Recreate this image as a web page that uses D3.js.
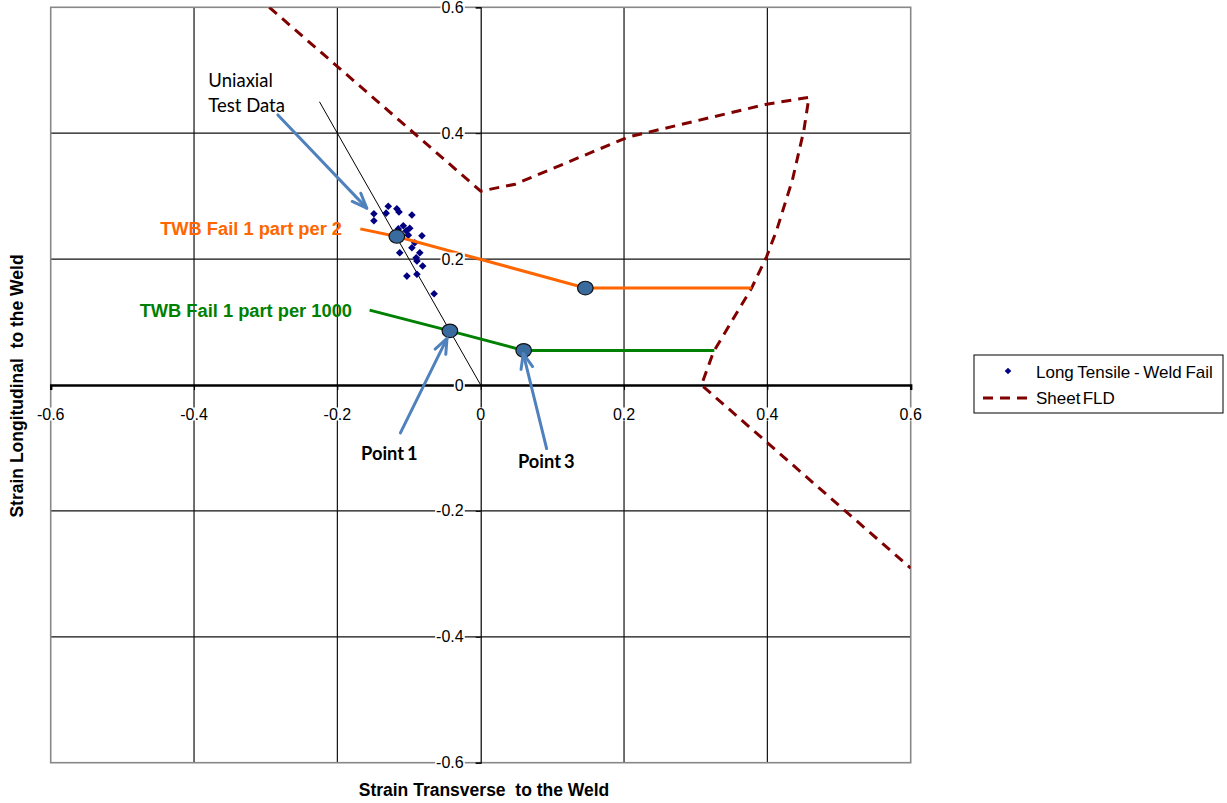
<!DOCTYPE html>
<html>
<head>
<meta charset="utf-8">
<script src="https://cdn.jsdelivr.net/npm/d3@7"></script>
<style>
  body { margin: 0; background: #fff; }
  svg { display: block; }
</style>
</head>
<body>
<svg id="chart" width="1227" height="803"></svg>
<script>
// ---- data -------------------------------------------------------------
const xTicks = [-0.6, -0.4, -0.2, 0, 0.2, 0.4, 0.6];
const yTicks = [-0.6, -0.4, -0.2, 0, 0.2, 0.4, 0.6];

// Long tensile specimens that failed in the weld (transverse, longitudinal strain)
const weldFailX = [-0.149, -0.149, -0.132, -0.129, -0.117, -0.114, -0.096, -0.108, -0.099, -0.104,
                   -0.115, -0.101, -0.082, -0.092, -0.096, -0.113, -0.085, -0.090, -0.089, -0.081,
                   -0.103, -0.089, -0.065];
const weldFailY = [0.272, 0.261, 0.273, 0.284, 0.280, 0.275, 0.270, 0.253, 0.249, 0.245,
                   0.248, 0.238, 0.237, 0.226, 0.218, 0.210, 0.210, 0.202, 0.197, 0.189,
                   0.173, 0.176, 0.145];

// Forming limit diagram of the parent sheet
const fldX = [-0.295, 0.0, 0.048, 0.206, 0.399, 0.458, 0.451, 0.435, 0.413, 0.399, 0.378, 0.325, 0.308, 0.600];
const fldY = [0.600, 0.308, 0.319, 0.394, 0.446, 0.457, 0.405, 0.326, 0.246, 0.204, 0.154, 0.053, 0.000, -0.291];

// Uniaxial strain path
const uniaxialX = [-0.225, 0];
const uniaxialY = [0.45, 0];

// Tailor welded blank failure paths
const twb2X = [-0.168, -0.117, 0.146, 0.378];
const twb2Y = [0.248, 0.236, 0.154, 0.154];
const twb1000X = [-0.155, -0.043, 0.060, 0.326];
const twb1000Y = [0.119, 0.086, 0.055, 0.055];

// Highlighted points on the failure paths
const markerX = [-0.117, 0.146, -0.043, 0.060];
const markerY = [0.236, 0.154, 0.086, 0.055];

// ---- layout -----------------------------------------------------------
const svg = d3.select("#chart");
const plot = { left: 50.7, right: 910.7, top: 7.3, bottom: 762.7 };

const x = d3.scaleLinear().domain([-0.6, 0.6]).range([plot.left, plot.right]);
const y = d3.scaleLinear().domain([-0.6, 0.6]).range([plot.bottom, plot.top]);

const fmt = d => (d === 0 ? "0" : d3.format(".1f")(d)).replace("−", "-");
const tickFont = "'Liberation Sans', Arial, sans-serif";

// clip for series
svg.append("defs").append("clipPath").attr("id", "plotClip")
  .append("rect")
  .attr("x", plot.left).attr("y", plot.top)
  .attr("width", plot.right - plot.left).attr("height", plot.bottom - plot.top);

// ---- grid -------------------------------------------------------------
const grid = svg.append("g");
grid.selectAll(".vg").data(xTicks.filter(d => d !== -0.6 && d !== 0.6 && d !== 0)).join("line")
  .attr("x1", d => x(d)).attr("x2", d => x(d))
  .attr("y1", plot.top).attr("y2", plot.bottom)
  .attr("stroke", "#111").attr("stroke-width", 1.2);
grid.selectAll(".hg").data(yTicks.filter(d => d !== -0.6 && d !== 0.6 && d !== 0)).join("line")
  .attr("x1", plot.left).attr("x2", plot.right)
  .attr("y1", d => y(d)).attr("y2", d => y(d))
  .attr("stroke", "#111").attr("stroke-width", 1.2);

// plot border
svg.append("rect")
  .attr("x", plot.left).attr("y", plot.top)
  .attr("width", plot.right - plot.left).attr("height", plot.bottom - plot.top)
  .attr("fill", "none").attr("stroke", "#888").attr("stroke-width", 1.6);

// ---- axes through the origin -----------------------------------------
const yAxis = d3.axisLeft(y).tickValues(yTicks).tickSize(5).tickFormat(() => "");
const xAxis = d3.axisBottom(x).tickValues(xTicks).tickSize(5).tickFormat(() => "");

const yAxisG = svg.append("g").attr("transform", `translate(${x(0)},0)`).call(yAxis);
yAxisG.select(".domain").attr("stroke", "#000").attr("stroke-width", 1.2);
yAxisG.selectAll(".tick line").attr("stroke", "#000");

const xAxisG = svg.append("g").attr("transform", `translate(0,${y(0)})`).call(xAxis);
xAxisG.select(".domain").attr("stroke", "#000").attr("stroke-width", 2.4);
xAxisG.selectAll(".tick line").attr("stroke", "#000");

// ---- series -----------------------------------------------------------
const series = svg.append("g").attr("clip-path", "url(#plotClip)");
const line = d3.line().x(d => x(d[0])).y(d => y(d[1]));

series.append("path")
  .datum(d3.zip(fldX, fldY))
  .attr("d", line)
  .attr("fill", "none").attr("stroke", "#800000").attr("stroke-width", 3)
  .attr("stroke-dasharray", "10,7");

series.append("path")
  .datum(d3.zip(uniaxialX, uniaxialY))
  .attr("d", line)
  .attr("fill", "none").attr("stroke", "#000").attr("stroke-width", 1);

// square diamonds (a square turned 45 degrees)
const diamond = d3.symbol().type(d3.symbolSquare).size(29);
series.selectAll(".wf").data(d3.zip(weldFailX, weldFailY)).join("path")
  .attr("d", diamond)
  .attr("transform", d => `translate(${x(d[0])},${y(d[1])}) rotate(45)`)
  .attr("fill", "#000080");

series.append("path")
  .datum(d3.zip(twb2X, twb2Y))
  .attr("d", line)
  .attr("fill", "none").attr("stroke", "#FF6600").attr("stroke-width", 3);

series.append("path")
  .datum(d3.zip(twb1000X, twb1000Y))
  .attr("d", line)
  .attr("fill", "none").attr("stroke", "#008000").attr("stroke-width", 3);

series.selectAll(".mk").data(d3.zip(markerX, markerY)).join("ellipse")
  .attr("cx", d => x(d[0])).attr("cy", d => y(d[1]))
  .attr("rx", 7.8).attr("ry", 6.8)
  .attr("fill", "#3A6B9E").attr("stroke", "#111").attr("stroke-width", 1.2);

// ---- tick labels (opaque backgrounds break the lines beneath) ---------
function boxedLabel(g, tx, ty, str, anchor) {
  const t = g.append("text")
    .attr("x", tx).attr("y", ty)
    .attr("text-anchor", anchor)
    .attr("dominant-baseline", "central")
    .attr("font-family", tickFont).attr("font-size", 16).attr("fill", "#000")
    .text(str);
  const b = t.node().getBBox();
  g.insert("rect", "text")
    .attr("x", b.x - 1).attr("y", b.y + 2)
    .attr("width", b.width + 2).attr("height", b.height - 4)
    .attr("fill", "#fff");
}
const labels = svg.append("g");
yTicks.forEach(d => {
  const g = labels.append("g");
  boxedLabel(g, x(0) - 17, y(d), fmt(d), "end");
});
xTicks.forEach(d => {
  const g = labels.append("g");
  boxedLabel(g, x(d), y(0) + 29, fmt(d), "middle");
});

// ---- axis titles ------------------------------------------------------
svg.append("text")
  .attr("x", 484).attr("y", 796)
  .attr("text-anchor", "middle")
  .attr("font-family", tickFont).attr("font-size", 17.5).attr("font-weight", "bold")
  .attr("xml:space", "preserve")
  .text("Strain Transverse  to the Weld");

svg.append("text")
  .attr("transform", `translate(23,386) rotate(-90)`)
  .attr("text-anchor", "middle")
  .attr("font-family", tickFont).attr("font-size", 17.5).attr("font-weight", "bold")
  .attr("xml:space", "preserve")
  .text("Strain Longitudinal  to the Weld");

// ---- annotations ------------------------------------------------------
const arrowColor = "#4F81BD";
function arrow(x1, y1, x2, y2) {
  const px1 = x(x1), py1 = y(y1), px2 = x(x2), py2 = y(y2);
  const a = Math.atan2(py1 - py2, px1 - px2);
  const len = 16, spread = 0.38;
  const g = svg.append("g").attr("stroke", arrowColor).attr("stroke-width", 3)
    .attr("stroke-linecap", "round").attr("fill", "none");
  g.append("line").attr("x1", px1).attr("y1", py1).attr("x2", px2).attr("y2", py2);
  g.append("path").attr("d",
    `M${px2 + len * Math.cos(a - spread)},${py2 + len * Math.sin(a - spread)}` +
    `L${px2},${py2}` +
    `L${px2 + len * Math.cos(a + spread)},${py2 + len * Math.sin(a + spread)}`)
    .attr("stroke-linejoin", "round");
}
arrow(-0.283, 0.429, -0.159, 0.281);
arrow(-0.112, -0.076, -0.047, 0.074);
arrow(0.092, -0.101, 0.0594, 0.050);

const noteFont = "Lato, 'Open Sans', sans-serif";
svg.append("text").attr("x", x(-0.380)).attr("y", y(0.474))
  .attr("font-family", noteFont).attr("font-size", 18.5).attr("fill", "#000").text("Uniaxial");
svg.append("text").attr("x", x(-0.380)).attr("y", y(0.434))
  .attr("font-family", noteFont).attr("font-size", 18.5).attr("fill", "#000").text("Test Data");

svg.append("text").attr("x", x(-0.1935)).attr("y", y(0.248))
  .attr("text-anchor", "end").attr("dominant-baseline", "central")
  .attr("font-family", tickFont).attr("font-size", 18.3).attr("font-weight", "bold")
  .attr("fill", "#FF6600").text("TWB Fail 1 part per 2");
svg.append("text").attr("x", x(-0.1796)).attr("y", y(0.1176))
  .attr("text-anchor", "end").attr("dominant-baseline", "central")
  .attr("font-family", tickFont).attr("font-size", 18.3).attr("font-weight", "bold")
  .attr("fill", "#008000").text("TWB Fail 1 part per 1000");

svg.append("text").attr("x", x(-0.167)).attr("y", y(-0.108))
  .attr("dominant-baseline", "central")
  .attr("font-family", noteFont).attr("font-size", 18.3).attr("font-weight", "bold")
  .attr("word-spacing", -1.5)
  .attr("fill", "#000").text("Point 1");
svg.append("text").attr("x", x(0.052)).attr("y", y(-0.121))
  .attr("dominant-baseline", "central")
  .attr("font-family", noteFont).attr("font-size", 18.3).attr("font-weight", "bold")
  .attr("word-spacing", -1.5)
  .attr("fill", "#000").text("Point 3");

// ---- legend -----------------------------------------------------------
const legend = svg.append("g").attr("transform", "translate(974,355)");
legend.append("rect").attr("width", 249).attr("height", 58)
  .attr("fill", "#fff").attr("stroke", "#000").attr("stroke-width", 1);
legend.append("path").attr("d", d3.symbol().type(d3.symbolSquare).size(22))
  .attr("transform", "translate(34,16) rotate(45)").attr("fill", "#000080");
legend.append("text").attr("x", 62).attr("y", 17).attr("dominant-baseline", "central")
  .attr("font-family", tickFont).attr("font-size", 17).attr("word-spacing", -1)
  .text("Long Tensile - Weld Fail");
legend.append("line").attr("x1", 9).attr("x2", 57).attr("y1", 43).attr("y2", 43)
  .attr("stroke", "#800000").attr("stroke-width", 3).attr("stroke-dasharray", "10,7");
legend.append("text").attr("x", 62).attr("y", 43).attr("dominant-baseline", "central")
  .attr("font-family", tickFont).attr("font-size", 17).attr("word-spacing", -2.5)
  .text("Sheet FLD");
</script>
</body>
</html>
